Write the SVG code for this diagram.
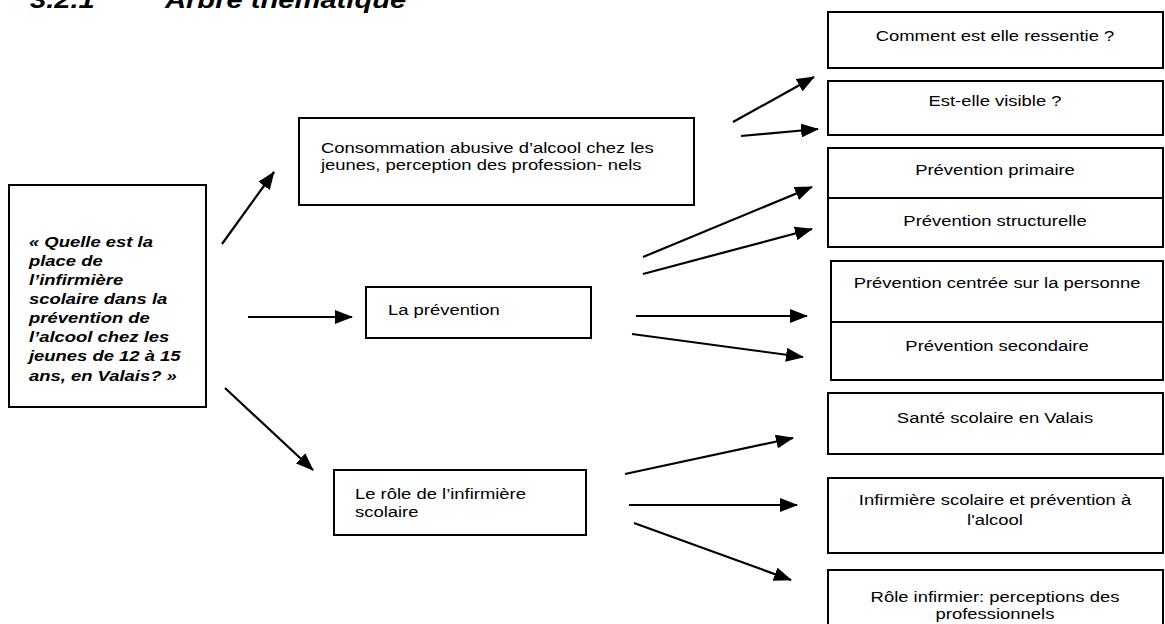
<svg xmlns="http://www.w3.org/2000/svg" width="1165" height="624" viewBox="0 0 1165 624">
<style>
.box{fill:#fff;stroke:#000;stroke-width:2}
.t{font-family:"Liberation Sans",Arial,sans-serif;font-size:15.5px;fill:#000}
.c{text-anchor:middle}
.bi{font-weight:bold;font-style:italic}
.title{font-family:"Liberation Sans",Arial,sans-serif;font-size:24.5px;font-weight:bold;font-style:italic;fill:#000}
.conn line{stroke:#000;stroke-width:2.2;marker-end:url(#ah)}
</style>
<defs>
<marker id="ah" markerUnits="userSpaceOnUse" markerWidth="18" markerHeight="14" refX="17" refY="7" orient="auto" viewBox="0 0 18 14">
<path d="M0,0 L18,7 L0,14 z" fill="#000"/>
</marker>
</defs>
<rect width="1165" height="624" fill="#fff"/>
<g id="title">
<text class="title" transform="matrix(1.19,0,0,1,30,0)" x="0" y="8">3.2.1</text>
<text class="title" transform="matrix(1.19,0,0,1,165,0)" x="0" y="8">Arbre thématique</text>
</g>
<g id="question">
<rect class="box" x="9" y="185" width="197" height="222"/>
<text class="t bi" transform="matrix(1.19,0,0,1,29,0)">
<tspan x="0" y="247">« Quelle est la</tspan>
<tspan x="0" y="266">place de</tspan>
<tspan x="0" y="285">l’infirmière</tspan>
<tspan x="0" y="304">scolaire dans la</tspan>
<tspan x="0" y="323">prévention de</tspan>
<tspan x="0" y="342">l’alcool chez les</tspan>
<tspan x="0" y="361">jeunes de 12 à 15</tspan>
<tspan x="0" y="381">ans, en Valais? »</tspan>
</text>
</g>
<g id="consommation">
<rect class="box" x="299" y="118" width="395" height="87"/>
<text class="t" transform="matrix(1.19,0,0,1,321,0)"><tspan x="0" y="153">Consommation abusive d’alcool chez les</tspan><tspan x="0" y="170">jeunes, perception des profession- nels</tspan></text>
</g>
<g id="prevention">
<rect class="box" x="366" y="287" width="225" height="51"/>
<text class="t" transform="matrix(1.19,0,0,1,388,0)" x="0" y="315">La prévention</text>
</g>
<g id="role">
<rect class="box" x="334" y="470" width="252" height="65"/>
<text class="t" transform="matrix(1.19,0,0,1,355,0)"><tspan x="0" y="499">Le rôle de l’infirmière</tspan><tspan x="0" y="517">scolaire</tspan></text>
</g>
<g id="ressentie">
<rect class="box" x="828" y="12" width="335" height="56"/>
<text class="t c" transform="matrix(1.19,0,0,1,995,0)" x="0" y="41">Comment est elle ressentie ?</text>
</g>
<g id="visible">
<rect class="box" x="828" y="81" width="335" height="54"/>
<text class="t c" transform="matrix(1.19,0,0,1,995,0)" x="0" y="106">Est-elle visible ?</text>
</g>
<g id="primaire">
<rect class="box" x="828" y="148" width="335" height="50"/>
<text class="t c" transform="matrix(1.19,0,0,1,995,0)" x="0" y="175">Prévention primaire</text>
</g>
<g id="structurelle">
<rect class="box" x="828" y="198" width="335" height="49"/>
<text class="t c" transform="matrix(1.19,0,0,1,995,0)" x="0" y="226">Prévention structurelle</text>
</g>
<g id="centree">
<rect class="box" x="831" y="261" width="332" height="61"/>
<text class="t c" transform="matrix(1.19,0,0,1,997,0)" x="0" y="288">Prévention centrée sur la personne</text>
</g>
<g id="secondaire">
<rect class="box" x="831" y="322" width="332" height="58"/>
<text class="t c" transform="matrix(1.19,0,0,1,997,0)" x="0" y="351">Prévention secondaire</text>
</g>
<g id="sante">
<rect class="box" x="828" y="393" width="335" height="61"/>
<text class="t c" transform="matrix(1.19,0,0,1,995,0)" x="0" y="423">Santé scolaire en Valais</text>
</g>
<g id="infirmiere">
<rect class="box" x="828" y="478" width="335" height="75"/>
<text class="t c" transform="matrix(1.19,0,0,1,995,0)"><tspan x="0" y="505">Infirmière scolaire et prévention à</tspan><tspan x="0" y="525">l'alcool</tspan></text>
</g>
<g id="roleinf">
<rect class="box" x="828" y="570" width="335" height="70"/>
<text class="t c" transform="matrix(1.19,0,0,1,995,0)"><tspan x="0" y="602">Rôle infirmier: perceptions des</tspan><tspan x="0" y="619">professionnels</tspan></text>
</g>
<g id="connectors" class="conn">
<line x1="222" y1="244" x2="274" y2="172"/>
<line x1="248" y1="317" x2="352" y2="317"/>
<line x1="225" y1="388" x2="313" y2="470"/>
<line x1="733" y1="122" x2="814" y2="77"/>
<line x1="741" y1="136" x2="818" y2="129"/>
<line x1="643" y1="257" x2="812" y2="187"/>
<line x1="643" y1="274" x2="812" y2="229"/>
<line x1="636" y1="316" x2="807" y2="316"/>
<line x1="632" y1="334" x2="803" y2="357"/>
<line x1="625" y1="474" x2="793" y2="438"/>
<line x1="629" y1="505" x2="797" y2="505"/>
<line x1="634" y1="523" x2="791" y2="580"/>
</g>
</svg>
